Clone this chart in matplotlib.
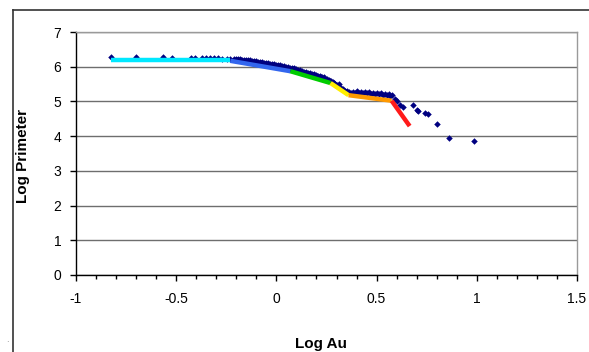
import numpy as np
import matplotlib.pyplot as plt
from matplotlib.lines import Line2D
from matplotlib.ticker import MultipleLocator

# --- Data: log perimeter vs log area ---
log_au = [-0.825, -0.699, -0.564, -0.522, -0.428, -0.406, -0.370, -0.350, -0.330, -0.310,
          -0.290, -0.270, -0.247, -0.230, -0.210, -0.20, -0.19, -0.18, -0.17, -0.16,
          -0.15, -0.14, -0.13, -0.12, -0.11, -0.10, -0.09, -0.08, -0.07, -0.06,
          -0.05, -0.04, -0.03, -0.02, -0.01, 0.00, 0.01, 0.02, 0.03, 0.04,
          0.05, 0.06, 0.07, 0.08, 0.09, 0.10, 0.11, 0.12, 0.13, 0.14,
          0.15, 0.16, 0.17, 0.18, 0.19, 0.20, 0.21, 0.22, 0.23, 0.24,
          0.25, 0.26, 0.27, 0.28, 0.29, 0.30, 0.31, 0.32, 0.33, 0.34,
          0.35, 0.36, 0.38, 0.40, 0.42, 0.44, 0.46, 0.48, 0.50, 0.52,
          0.54, 0.56, 0.575, 0.59, 0.60, 0.617, 0.630, 0.683, 0.700, 0.708,
          0.741, 0.758, 0.800, 0.861, 0.986]
log_perim = [6.28, 6.27, 6.27, 6.26, 6.26, 6.24, 6.24, 6.24, 6.24, 6.24,
             6.24, 6.23, 6.23, 6.23, 6.22, 6.22, 6.21, 6.21, 6.20, 6.20,
             6.19, 6.18, 6.18, 6.17, 6.16, 6.16, 6.15, 6.13, 6.13, 6.12,
             6.11, 6.10, 6.09, 6.08, 6.07, 6.06, 6.05, 6.04, 6.03, 6.01,
             6.00, 5.99, 5.97, 5.96, 5.95, 5.93, 5.91, 5.90, 5.88, 5.86,
             5.85, 5.83, 5.81, 5.80, 5.78, 5.76, 5.74, 5.72, 5.71, 5.69,
             5.66, 5.63, 5.60, 5.56, 5.50, 5.47, 5.49, 5.40, 5.35, 5.31,
             5.29, 5.28, 5.28, 5.29, 5.27, 5.26, 5.26, 5.25, 5.24, 5.23,
             5.22, 5.21, 5.18, 5.06, 5.02, 4.90, 4.85, 4.90, 4.75, 4.71,
             4.66, 4.63, 4.34, 3.94, 3.87]

# lower edge of the dense band of shapes
band_au = [-0.195, -0.175, -0.155, -0.135, -0.115, -0.095, -0.075, -0.055, -0.035, -0.015,
           0.005, 0.025, 0.045, 0.065, 0.085, 0.105, 0.125, 0.145, 0.165, 0.185,
           0.205, 0.225, 0.245, 0.265, 0.285, 0.345, 0.37, 0.39, 0.41, 0.43,
           0.45, 0.47, 0.49, 0.51, 0.53, 0.55, 0.565]
band_perim = [6.19, 6.18, 6.16, 6.15, 6.13, 6.12, 6.10, 6.08, 6.06, 6.04,
              6.02, 6.00, 5.97, 5.94, 5.92, 5.89, 5.86, 5.83, 5.79, 5.76,
              5.73, 5.69, 5.65, 5.59, 5.52, 5.27, 5.25, 5.25, 5.24, 5.23,
              5.23, 5.22, 5.21, 5.20, 5.19, 5.18, 5.16]

# fitted segments (x0, y0, x1, y1) and their colours
seg_x0 = [-0.825, -0.23, 0.07, 0.27, 0.36, 0.575]
seg_y0 = [6.20, 6.17, 5.87, 5.53, 5.18, 5.02]
seg_x1 = [-0.23, 0.07, 0.27, 0.36, 0.575, 0.665]
seg_y1 = [6.20, 5.87, 5.53, 5.18, 5.02, 4.29]
seg_colors = ['#00e8ff', '#3366ee', '#00cc00', '#ffee00', '#ff9900', '#ff1a1a']

fig = plt.figure(figsize=(5.89, 3.52), dpi=100)
ax = fig.add_axes([76/589, 77/352, 501/589, 243/352])

ax.scatter(log_au, log_perim, marker='D', s=11, color='#000080', zorder=3, linewidths=0)
ax.scatter(band_au, band_perim, marker='D', s=11, color='#000080', zorder=3, linewidths=0)
for x0, y0, x1, y1, c in zip(seg_x0, seg_y0, seg_x1, seg_y1, seg_colors):
    ax.plot([x0, x1], [y0, y1], color=c, lw=3.2, solid_capstyle='butt', zorder=4)

ax.set_xlim(-1, 1.5)
ax.set_ylim(0, 7)
ax.xaxis.set_major_locator(MultipleLocator(0.5))
ax.xaxis.set_minor_locator(MultipleLocator(0.1))
ax.yaxis.set_major_locator(MultipleLocator(1))

ax.grid(axis='y', color='#6e6e6e', lw=1.0, zorder=0)
ax.set_axisbelow(True)
for side in ['top', 'right']:
    ax.spines[side].set_color('#9a9a9a')
    ax.spines[side].set_linewidth(1.0)
for side in ['left', 'bottom']:
    ax.spines[side].set_color('black')
    ax.spines[side].set_linewidth(1.0)

ax.tick_params(axis='both', which='major', direction='out', length=4.5, width=1,
               labelsize=10, colors='black')
ax.tick_params(axis='x', which='major', pad=8)
ax.tick_params(axis='y', which='major', pad=6)
ax.tick_params(axis='x', which='minor', direction='out', length=3, width=1)

fmt = lambda v: ('%g' % v)
ax.set_xticks([-1, -0.5, 0, 0.5, 1, 1.5])
ax.set_xticklabels([fmt(v) for v in [-1, -0.5, 0, 0.5, 1, 1.5]], family='Liberation Sans')
ax.set_yticks(range(8))
ax.set_yticklabels([str(v) for v in range(8)], family='Liberation Sans')

ax.set_xlabel('Log Au', fontsize=11, fontweight='bold', family='Liberation Sans')
ax.set_ylabel('Log Primeter', fontsize=11, fontweight='bold', family='Liberation Sans')
ax.xaxis.set_label_coords(0.49, -0.255)
ax.yaxis.set_label_coords(-0.092, 0.49)

# outer chart frame
fig.add_artist(Line2D([13/589, 13/589], [0, 1 - 10/352], color='#333333', lw=1.2,
                      transform=fig.transFigure))
fig.add_artist(Line2D([13/589, 1], [1 - 10/352, 1 - 10/352], color='#333333', lw=1.2,
                      transform=fig.transFigure))
fig.text(6/589, 1 - 342/352, '.', fontsize=6, color='#777777')

fig.savefig('out.png', dpi=100)
